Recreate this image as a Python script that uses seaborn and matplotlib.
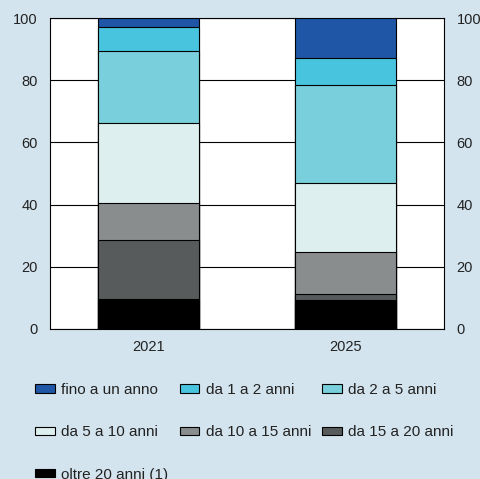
import matplotlib
matplotlib.use('Agg')
import numpy as np
import matplotlib.pyplot as plt
import seaborn as sns
from matplotlib.patches import Patch

# data (percent of total)
years = ['2021', '2025']
labels = ['fino a un anno', 'da 1 a 2 anni', 'da 2 a 5 anni', 'da 5 a 10 anni',
          'da 10 a 15 anni', 'da 15 a 20 anni', 'oltre 20 anni (1)']
fino_1 = [3.0, 12.9]
da_1_2 = [7.7, 8.7]
da_2_5 = [23.2, 31.4]
da_5_10 = [25.6, 22.3]
da_10_15 = [11.9, 13.3]
da_15_20 = [19.0, 2.0]
oltre_20 = [9.6, 9.4]

colors = ['#1f56a5', '#48c4de', '#79cfdb', '#ddf0ef', '#8a8d8e', '#575b5c', '#000000']
bg = '#d3e4ee'
txt = '#222222'

sns.set_style('white')
plt.rcParams['font.family'] = ['Liberation Sans', 'DejaVu Sans']
plt.rcParams['font.size'] = 10.5

fig = plt.figure(figsize=(4.8, 4.79), dpi=100, facecolor=bg)
ax = fig.add_axes([50 / 480, 1 - 329 / 479, 394 / 480, 311 / 479])
ax.set_facecolor('white')

# stacked from bottom: oltre 20 ... fino a un anno
layers = [oltre_20, da_15_20, da_10_15, da_5_10, da_2_5, da_1_2, fino_1]
layer_colors = colors[::-1]
cum = np.cumsum(np.array(layers), axis=0)

# draw the tallest cumulative first so smaller ones sit on top
for i in range(len(layers) - 1, -1, -1):
    sns.barplot(x=years, y=cum[i], color=layer_colors[i], saturation=1,
                width=0.51, edgecolor='black', linewidth=0.8, ax=ax, zorder=3)

ax.set_ylim(0, 100)
ax.set_xlim(-0.5, 1.5)
ax.set_yticks([0, 20, 40, 60, 80, 100])
ax.yaxis.grid(True, color='black', linewidth=0.8)
ax.xaxis.grid(False)
ax.set_axisbelow(True)
ax.tick_params(axis='y', length=0, pad=9, labelright=True, labelcolor=txt)
ax.tick_params(axis='x', length=0, pad=8, labelcolor=txt)
ax.set_xlabel('')
ax.set_ylabel('')
for s in ax.spines.values():
    s.set_visible(True)
    s.set_color('black')
    s.set_linewidth(0.8)

# legend, row-major order like the original
handles = [Patch(facecolor=c, edgecolor='black', linewidth=0.8) for c in colors]
order = [0, 3, 6, 1, 4, 2, 5]
fig.legend([handles[i] for i in order], [labels[i] for i in order],
           ncol=3, loc='upper left', bbox_to_anchor=(35 / 480, 1 - 383 / 479),
           frameon=False, fontsize=11, handlelength=1.3, handleheight=0.45,
           handletextpad=0.4, columnspacing=0.75, labelspacing=1.85,
           borderpad=0, borderaxespad=0, labelcolor=txt)

fig.savefig('out.png', dpi=100, facecolor=bg)
